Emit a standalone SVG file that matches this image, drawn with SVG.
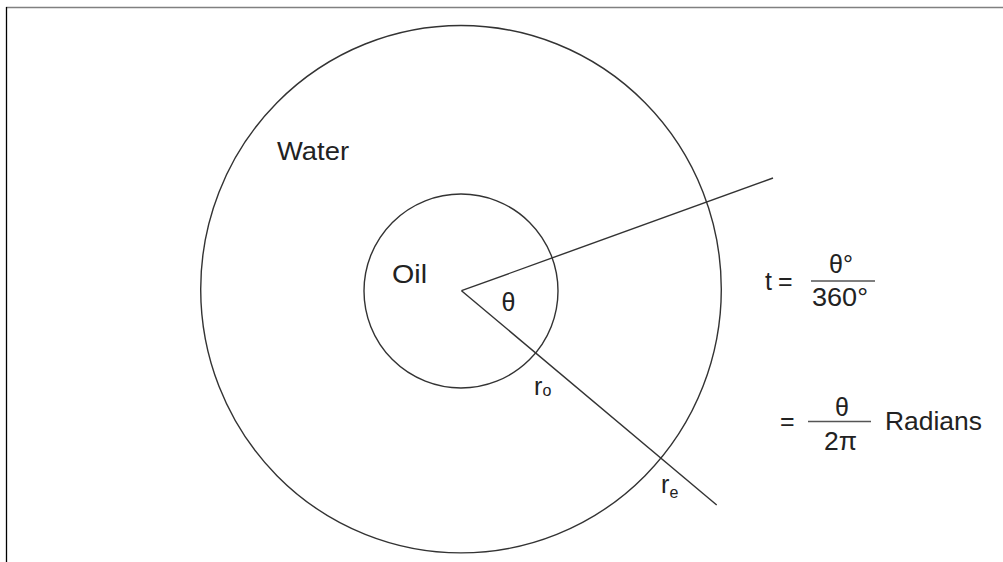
<svg xmlns="http://www.w3.org/2000/svg" width="1003" height="562" viewBox="0 0 1003 562">
<style>
.t{font-family:"Liberation Sans",Arial,sans-serif;fill:#222;font-size:25px}
.s{font-family:"Liberation Sans",Arial,sans-serif;fill:#222;font-size:16px}
.ln{stroke:#333;stroke-width:1.4;fill:none}
</style>
<rect width="1003" height="562" fill="#fff"/>
<g id="frame">
<line x1="6" y1="7.6" x2="1003" y2="7.6" stroke="#808080" stroke-width="1.5"/>
<line x1="6.5" y1="7" x2="6.5" y2="562" stroke="#000" stroke-width="1.3"/>
</g>
<g id="water">
<ellipse class="ln" cx="461" cy="289.2" rx="260.3" ry="263.7"/>
<text class="t" x="277" y="160" textLength="72" lengthAdjust="spacingAndGlyphs">Water</text>
</g>
<g id="oil">
<circle class="ln" cx="461" cy="291" r="97"/>
<text class="t" x="392" y="283" textLength="35" lengthAdjust="spacingAndGlyphs">Oil</text>
</g>
<g id="connectors">
<line class="ln" x1="461.5" y1="290.7" x2="773" y2="178"/>
<line class="ln" x1="461.5" y1="290.7" x2="716.7" y2="505"/>
</g>
<g id="angle">
<text class="t" x="501.5" y="311">θ</text>
</g>
<g id="ro">
<text class="t" x="534" y="395">r</text>
<text class="s" x="542.5" y="396">o</text>
</g>
<g id="re">
<text class="t" x="661" y="493">r</text>
<text class="s" x="669.5" y="498">e</text>
</g>
<g id="formula1">
<text class="t" x="765" y="290">t</text>
<text class="t" x="778" y="290">=</text>
<text class="t" x="829" y="273">θ°</text>
<line x1="811" y1="281" x2="875" y2="281" stroke="#555" stroke-width="1.3"/>
<text class="t" x="812" y="306" textLength="56" lengthAdjust="spacingAndGlyphs">360°</text>
</g>
<g id="formula2">
<text class="t" x="780" y="430">=</text>
<text class="t" x="835" y="416">θ</text>
<line x1="808" y1="421.5" x2="871" y2="421.5" stroke="#555" stroke-width="1.3"/>
<text class="t" x="824" y="450" textLength="33" lengthAdjust="spacingAndGlyphs">2π</text>
<text class="t" x="885" y="430" textLength="97" lengthAdjust="spacingAndGlyphs">Radians</text>
</g>
</svg>
